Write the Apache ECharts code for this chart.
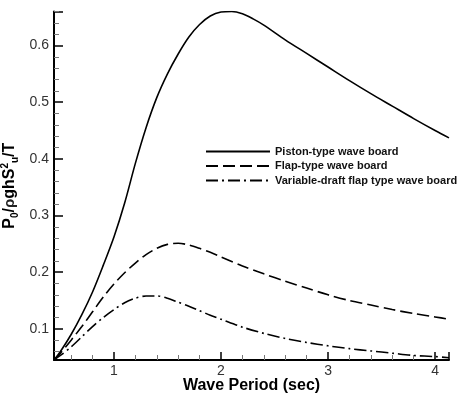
<!DOCTYPE html>
<html>
<head>
<meta charset="utf-8">
<script src="https://cdn.jsdelivr.net/npm/echarts@6/dist/echarts.min.js"></script>
<style>html,body{margin:0;padding:0;background:#fff}#c{width:459px;height:394px}</style>
</head>
<body>
<div id="c"></div>
<script>
var seriesNames = ['Piston-type wave board', 'Flap-type wave board', 'Variable-draft flap type wave board'];
var pistonX = [0.44,0.5,0.6,0.7,0.8,0.9,1.0,1.1,1.2,1.3,1.4,1.5,1.6,1.7,1.8,1.9,2.0,2.1,2.2,2.3,2.4,2.6,2.8,3.0,3.2,3.4,3.6,3.8,4.0,4.13];
var pistonY = [0.045,0.060,0.090,0.125,0.165,0.212,0.262,0.322,0.392,0.455,0.508,0.550,0.585,0.615,0.637,0.652,0.659,0.660,0.656,0.647,0.636,0.610,0.586,0.562,0.538,0.515,0.493,0.471,0.450,0.437];
var flapX = [0.44,0.5,0.6,0.7,0.8,0.9,1.0,1.1,1.2,1.3,1.4,1.5,1.6,1.7,1.8,1.9,2.0,2.2,2.4,2.6,2.8,3.0,3.2,3.4,3.6,3.8,4.0,4.13];
var flapY = [0.045,0.057,0.080,0.104,0.130,0.156,0.179,0.199,0.216,0.231,0.242,0.249,0.251,0.248,0.242,0.235,0.227,0.211,0.197,0.184,0.172,0.160,0.150,0.142,0.134,0.127,0.121,0.117];
var varX = [0.44,0.5,0.6,0.7,0.8,0.9,1.0,1.1,1.2,1.3,1.4,1.5,1.6,1.7,1.8,1.9,2.0,2.2,2.4,2.6,2.8,3.0,3.2,3.4,3.6,3.8,4.0,4.13];
var varY = [0.045,0.053,0.068,0.086,0.104,0.120,0.134,0.146,0.154,0.158,0.158,0.154,0.147,0.140,0.132,0.124,0.117,0.103,0.092,0.083,0.076,0.070,0.065,0.061,0.057,0.053,0.051,0.049];

function pairs(xs, ys) { return xs.map(function (x, i) { return [x, ys[i]]; }); }

var FONT = '"Liberation Sans", Arial, sans-serif';
var chart = echarts.init(document.getElementById('c'), null, {renderer: 'canvas'});
var lineBase = {type: 'line', symbol: 'none', showSymbol: false, smooth: 0.3, silent: true, animation: false};
chart.setOption({
  backgroundColor: '#fff',
  animation: false,
  grid: {left: 54, right: 10, top: 11.5, bottom: 34, containLabel: false, outerBoundsMode: 'none'},
  legend: {
    orient: 'vertical', left: 205, top: 146, padding: 0,
    itemWidth: 64, itemHeight: 12, itemGap: 3.5,
    selectedMode: false,
    itemStyle: {color: 'rgba(0,0,0,0)', borderWidth: 0, opacity: 0},
    textStyle: {fontFamily: FONT, fontSize: 11, fontWeight: 'bold', color: '#111'},
    data: seriesNames
  },
  xAxis: {
    type: 'value', min: 0.44, max: 4.13, minInterval: 1, maxInterval: 1,
    name: 'Wave Period (sec)', nameLocation: 'middle', nameGap: 18, nameMoveOverlap: false,
    nameTextStyle: {fontFamily: FONT, fontSize: 16, fontWeight: 'bold', color: '#000'},
    axisLine: {show: true, onZero: false, lineStyle: {color: '#000', width: 2}},
    axisTick: {show: true, inside: true, length: 8, lineStyle: {color: '#000', width: 1.5}},
    minorTick: {show: true, splitNumber: 5, length: 5, lineStyle: {color: '#777', width: 1}},
    axisLabel: {showMinLabel: false, showMaxLabel: false, margin: 4, fontFamily: FONT, fontSize: 14, color: '#333'},
    splitLine: {show: false}, minorSplitLine: {show: false}
  },
  yAxis: {
    type: 'value', min: 0.045, max: 0.66, minInterval: 0.1, maxInterval: 0.1,
    name: '{b|P}{sub|0}{b|/}{rho|ρ}{b|ghS}{sup|2}{sub|u}{b|/T}',
    nameLocation: 'middle', nameGap: 34, nameRotate: 90, nameMoveOverlap: false,
    nameTextStyle: {
      fontFamily: FONT, fontSize: 16, fontWeight: 'bold', color: '#000',
      rich: {
        b: {fontFamily: FONT, fontSize: 16, fontWeight: 'bold', color: '#000', lineHeight: 20},
        rho: {fontFamily: FONT, fontSize: 15, color: '#222', lineHeight: 20},
        sub: {fontFamily: FONT, fontSize: 10, fontWeight: 'bold', color: '#000', lineHeight: 11, verticalAlign: 'bottom'},
        sup: {fontFamily: FONT, fontSize: 10, fontWeight: 'bold', color: '#000', lineHeight: 11, verticalAlign: 'top'}
      }
    },
    axisLine: {show: true, onZero: false, lineStyle: {color: '#000', width: 2}},
    axisTick: {show: true, inside: true, length: 9, lineStyle: {color: '#000', width: 1.5}},
    minorTick: {show: true, splitNumber: 5, length: 5, lineStyle: {color: '#777', width: 1}},
    axisLabel: {showMinLabel: false, showMaxLabel: false, margin: 5, fontFamily: FONT, fontSize: 14, color: '#333'},
    splitLine: {show: false}, minorSplitLine: {show: false}
  },
  series: [
    Object.assign({}, lineBase, {name: seriesNames[0], data: pairs(pistonX, pistonY),
      itemStyle: {color: '#000'}, lineStyle: {color: '#000', width: 1.6, type: 'solid'}}),
    Object.assign({}, lineBase, {name: seriesNames[1], data: pairs(flapX, flapY),
      itemStyle: {color: '#000'}, lineStyle: {color: '#000', width: 1.6, type: [12, 5]}}),
    Object.assign({}, lineBase, {name: seriesNames[2], data: pairs(varX, varY),
      itemStyle: {color: '#000'}, lineStyle: {color: '#000', width: 1.6, type: [12, 4, 2, 4]}})
  ]
});
</script>
</body>
</html>
